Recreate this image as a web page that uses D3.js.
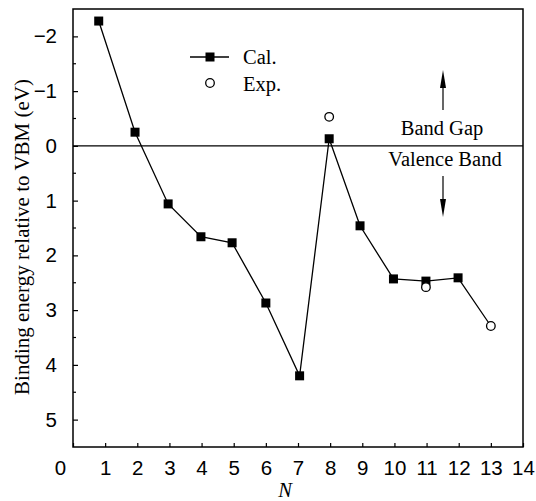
<!DOCTYPE html>
<html>
<head>
<meta charset="utf-8">
<script src="https://cdn.jsdelivr.net/npm/d3@7"></script>
<style>
    body { margin: 0; background: #fff; }
    svg { display: block; font-family: "Liberation Serif", "DejaVu Serif", serif; }
</style>
</head>
<body>
<svg id="chart" width="536" height="501"></svg>
<script>
// calculated binding energies (eV, relative to VBM)
const calN = [0.8, 1.93, 2.96, 3.98, 4.95, 6.0, 7.05, 7.97, 8.93, 9.97, 10.98, 11.98, 13.0];
const calE = [-2.28, -0.25, 1.06, 1.66, 1.77, 2.87, 4.2, -0.13, 1.46, 2.43, 2.47, 2.41, 3.29];
// experimental points
const expN = [7.97, 10.98, 13.0];
const expE = [-0.53, 2.58, 3.29];

const xTicks = d3.range(0, 15);
const yTicks = [-2, -1, 0, 1, 2, 3, 4, 5];
const yMinor = d3.range(-2.5, 5.51, 0.5);

const width = 536, height = 501;
const margin = {top: 9, right: 13, bottom: 54, left: 73};

const svg = d3.select('#chart');

let x = d3.scaleLinear().domain([0, 14]).range([margin.left, width - margin.right]);
let y = d3.scaleLinear().domain([-2.5, 5.5]).range([margin.top, height - margin.bottom]);

const fmt = d => d < 0 ? '\u2212' + Math.abs(d) : String(d);

// frame
svg.append('rect')
    .attr('x', margin.left).attr('y', margin.top)
    .attr('width', x(14) - x(0)).attr('height', y(5.5) - y(-2.5))
    .attr('fill', 'none').attr('stroke', '#000').attr('stroke-width', 1.5);

// x axis, ticks pointing inward
let xAxis = svg.append('g')
    .attr('transform', `translate(0,${y(5.5)})`)
    .call(d3.axisBottom(x).tickValues(xTicks).tickSize(-4).tickPadding(13).tickFormat(d => d));
xAxis.select('.domain').remove();
xAxis.selectAll('line').attr('stroke-width', 1.2);
xAxis.selectAll('text')
    .attr('font-size', 20.5).attr('fill', '#000')
    .attr('dx', d => d === 0 ? -13 : 0);

// y axis minor ticks
svg.append('g').selectAll('line')
    .data(yMinor.filter(v => !yTicks.includes(v) && v > -2.5 && v < 5.5))
    .enter().append('line')
    .attr('x1', x(0)).attr('x2', x(0) + 3)
    .attr('y1', d => y(d)).attr('y2', d => y(d))
    .attr('stroke', '#000').attr('stroke-width', 1.2);

let yAxis = svg.append('g')
    .attr('transform', `translate(${x(0)},0)`)
    .call(d3.axisLeft(y).tickValues(yTicks).tickSize(-5).tickPadding(16).tickFormat(fmt));
yAxis.select('.domain').remove();
yAxis.selectAll('line').attr('stroke-width', 1.2);
yAxis.selectAll('text').attr('font-size', 20.5).attr('fill', '#000');

// axis titles
svg.append('text')
    .attr('transform', `translate(29,237) rotate(-90)`)
    .attr('text-anchor', 'middle')
    .attr('font-size', 21)
    .text('Binding energy relative to VBM (eV)');
svg.append('text')
    .attr('x', 285).attr('y', 497)
    .attr('text-anchor', 'middle')
    .attr('font-size', 20.5).attr('font-style', 'italic')
    .text('N');

// VBM reference line
svg.append('line')
    .attr('x1', x(0)).attr('x2', x(14))
    .attr('y1', y(0)).attr('y2', y(0))
    .attr('stroke', '#000').attr('stroke-width', 1.3);

// band labels and arrows
svg.append('text').attr('x', 442).attr('y', 135).attr('text-anchor', 'middle')
    .attr('font-size', 20.5).text('Band Gap');
svg.append('text').attr('x', 445).attr('y', 166).attr('text-anchor', 'middle')
    .attr('font-size', 20.5).text('Valence Band');

function arrow(x0, yTail, yTip) {
    let dir = yTip < yTail ? 1 : -1;
    svg.append('line')
        .attr('x1', x0).attr('x2', x0).attr('y1', yTail).attr('y2', yTip + dir * 10)
        .attr('stroke', '#000').attr('stroke-width', 1.2);
    svg.append('path')
        .attr('d', `M${x0},${yTip} L${x0 - 3},${yTip + dir * 18} L${x0 + 3},${yTip + dir * 18} Z`)
        .attr('fill', '#000');
}
arrow(443, 110, 70);
arrow(443, 176, 217);

// calculated series
let calData = calN.map((n, i) => ({n: n, e: calE[i]}));
let expData = expN.map((n, i) => ({n: n, e: expE[i]}));

svg.append('path')
    .datum(calData)
    .attr('d', d3.line().x(d => x(d.n)).y(d => y(d.e)))
    .attr('fill', 'none').attr('stroke', '#000').attr('stroke-width', 1.3);

// squares hidden where an experimental point sits on top
let covered = d => expData.some(p => Math.abs(p.n - d.n) < 0.05 && Math.abs(p.e - d.e) < 0.05);
svg.append('g').selectAll('rect')
    .data(calData.filter(d => !covered(d)))
    .enter().append('rect')
    .attr('x', d => x(d.n) - 4.5).attr('y', d => y(d.e) - 4.5)
    .attr('width', 9).attr('height', 9)
    .attr('fill', '#000');

svg.append('g').selectAll('circle')
    .data(expData)
    .enter().append('circle')
    .attr('cx', d => x(d.n)).attr('cy', d => y(d.e))
    .attr('r', 4.3)
    .attr('fill', '#fff').attr('stroke', '#000').attr('stroke-width', 1.3);

// legend
let lg = svg.append('g');
lg.append('line').attr('x1', 190).attr('x2', 229).attr('y1', 57).attr('y2', 57)
    .attr('stroke', '#000').attr('stroke-width', 1.3);
lg.append('rect').attr('x', 205.5).attr('y', 52.5).attr('width', 9).attr('height', 9).attr('fill', '#000');
lg.append('text').attr('x', 243).attr('y', 64).attr('font-size', 20.5).text('Cal.');
lg.append('circle').attr('cx', 210).attr('cy', 83).attr('r', 4.3)
    .attr('fill', '#fff').attr('stroke', '#000').attr('stroke-width', 1.3);
lg.append('text').attr('x', 243).attr('y', 91).attr('font-size', 20.5).text('Exp.');
</script>
</body>
</html>
